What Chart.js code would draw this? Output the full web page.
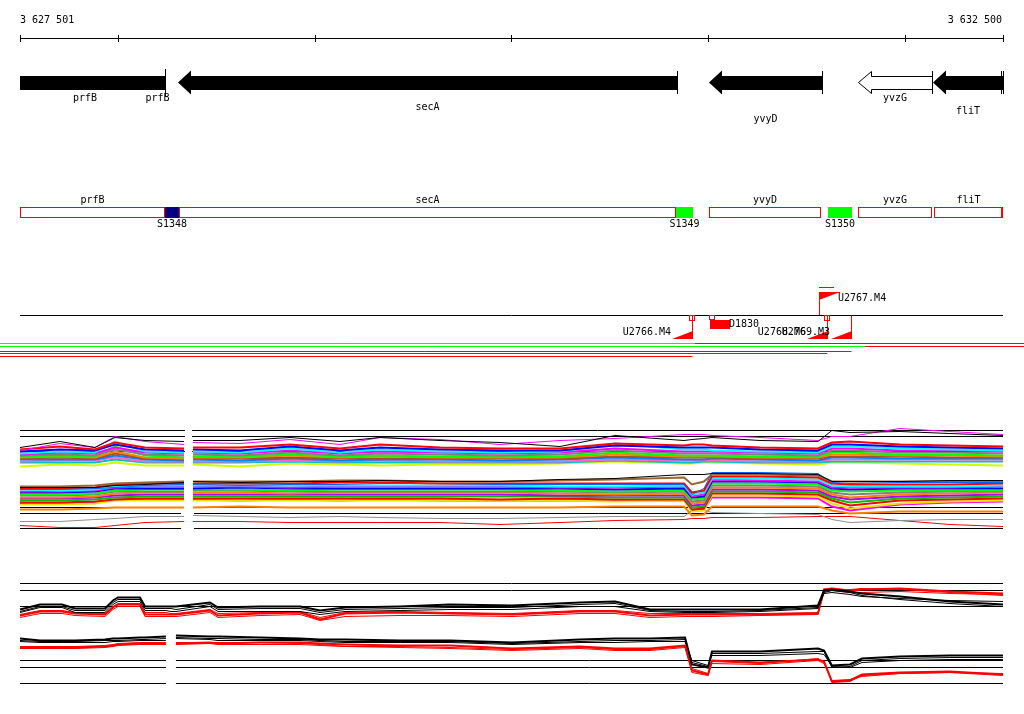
<!DOCTYPE html>
<html><head><meta charset="utf-8">
<script src="https://cdn.jsdelivr.net/npm/chart.js@4.4.0/dist/chart.umd.min.js"></script>
<style>html,body{margin:0;padding:0;background:#fff;overflow:hidden}canvas{display:block}</style>
</head><body><canvas id="c" width="1024" height="714"></canvas>
<script>
// ---------- DATA ----------
const REGION_START = 3627501, REGION_END = 3632500;
const axisTicks = [3627501, 3628000, 3629000, 3630000, 3631000, 3632000, 3632500];
const axisLabelLeft = '3 627 501', axisLabelRight = '3 632 500';

const geneNames  = ['prfB', 'prfB', 'secA', 'yvyD', 'yvzG', 'fliT'];
const geneStarts = [3627501, 3628162, 3628304, 3631005, 3631763, 3632144];
const geneEnds   = [3628162, 3628238, 3630842, 3631577, 3632139, 3632500];
const geneHasHead = [false, false, true, true, true, true];
const geneFilled  = [true, true, true, true, false, true];
const geneStartMarks = [3628238, 3630842, 3631577, 3632139, 3632490, 3632500];

const featNames  = ['prfB', 'secA', 'yvyD', 'yvzG', 'fliT'];
const featStarts = [3627501, 3628310, 3631005, 3631763, 3632149];
const featEnds   = [3628238, 3630837, 3631574, 3632139, 3632500];
const segNames  = ['S1348', 'S1349', 'S1350'];
const segStarts = [3628238, 3630837, 3631610];
const segEnds   = [3628310, 3630923, 3631732];

const upFlagNames = ['U2767.M4'];
const upFlagPos   = [3631564];
const downFlagNames = ['U2766.M4', 'U2768.M6', 'U2769.M3'];
const downFlagPos   = [3630920, 3631606, 3631729];
const downFlagBox   = [true, true, false];
const delNames = ['D1830'];
const delStarts = [3631010];
const delEnds = [3631112];
const strandSwitch = [3630934, 3631798];      // green -> red switch points
const readEnds = [3631729, 3631606, 3630920];  // red reads ending at flags

// expression panel 1 knots and profiles
const p1Pos = [3627501,3627704,3627882,3627984,3628137,3628335,3628355,3628381,3628620,3628874,3629128,3629332,3629637,3629942,3630247,3630527,3630878,3630918,3630979,3631020,3631264,3631559,3631630,3631722,3631976,3632230,3632500];
const topEnvBlack   = [447,441,447,437,440,441,null,440,440,437,441,437,440,442,446,435,440,439,438,437,440,441,430,432,431,433,435];
const topEnvMagenta = [450,443,447,436,441,444,null,442,443,439,444,437,439,444,440,438,434,434,434,435,437,440,436,436,428,431,434];
const topT1  = [449,446,449,442,447,448,null,447,447,444,448,444,447,448,448,443,445,444,444,445,447,448,442,441,444,445,446];
const topT2  = [451,449,450,444,449,450,null,449,450,446,450,447,449,450,450,445,447,447,447,447,449,450,444,444,446,447,448];
const topT3  = [453,451,452,441,451,452,null,451,452,448,452,449,451,452,451,443,449,449,449,450,451,452,446,446,448,449,450];
const topT4  = [454,452,453,447,452,453,null,452,453,450,453,451,452,453,452,448,451,451,451,451,452,453,448,448,450,450,451];
const topT5  = [455,454,455,449,454,455,null,454,455,452,455,453,454,455,454,450,453,453,453,453,454,455,450,450,452,452,453];
const topT6  = [456,455,456,446,455,457,null,456,456,454,456,455,456,456,456,452,455,455,455,455,456,456,452,452,454,454,455];
const topT7  = [457,456,457,451,457,458,null,457,457,455,457,456,457,457,457,454,456,456,456,456,457,457,454,454,455,455,456];
const topT8  = [458,457,458,453,458,459,null,458,458,457,458,458,458,458,458,456,457,457,457,457,458,458,456,456,456,457,457];
const topT9  = [459,459,459,455,459,460,null,459,460,458,460,459,459,460,459,457,459,459,459,458,459,460,457,457,458,458,458];
const topT10 = [461,460,460,457,461,461,null,461,461,460,461,460,461,461,461,459,460,460,460,460,461,461,459,459,459,459,459];
const topT11 = [462,462,462,459,462,462,null,462,462,461,462,462,462,462,462,460,462,462,461,461,462,462,461,461,461,461,461];
const topT12 = [466,464,465,462,465,465,null,464,466,463,464,465,464,464,463,461,463,463,462,462,463,464,462,462,463,464,465];

const lowEnvBlack = [487,487,487,485,484,482,null,481,482,481,481,480,481,481,479,478,474,474,474,473,473,474,481,481,481,480,480];
const lowEnvBlue  = [489,489,488,487,485,484,null,484,485,484,484,483,483,484,484,484,484,494,488,472,472,473,482,483,482,482,482];
const lowL1  = [486,486,485,483,482,481,null,481,481,481,480,480,481,481,480,479,477,484,481,474,474,475,481,481,481,481,481];
const lowL2  = [488,488,487,484,483,483,null,483,483,483,482,482,483,483,483,483,483,492,490,476,476,477,483,484,484,484,483];
const lowL3  = [489,490,489,486,485,485,null,485,485,485,485,485,485,485,486,486,485,494,492,478,478,479,485,486,486,486,485];
const lowL4  = [491,491,490,487,486,486,null,486,486,487,486,486,486,486,487,487,486,496,494,479,480,481,487,487,487,487,486];
const lowL5  = [492,492,491,488,488,488,null,488,487,488,488,488,488,488,488,489,488,497,496,481,481,482,488,489,488,488,488];
const lowL6  = [494,494,493,490,489,489,null,489,489,490,489,489,489,489,490,491,490,499,498,483,483,484,490,491,490,490,490];
const lowL7  = [495,495,494,491,491,491,null,490,490,491,491,491,491,491,491,492,491,501,500,485,485,486,492,494,492,491,491];
const lowL8  = [497,497,496,493,492,492,null,492,492,493,492,492,492,492,493,494,493,503,502,487,487,488,494,497,494,493,492];
const lowL9  = [498,498,497,495,494,494,null,494,494,494,494,494,494,494,495,495,495,505,504,489,489,490,496,499,496,495,494];
const lowL10 = [500,500,499,497,496,496,null,496,496,496,496,496,496,496,496,497,497,507,506,491,491,492,498,502,498,497,496];
const lowL11 = [502,502,501,499,498,498,null,498,498,498,498,498,498,499,498,499,499,509,508,493,493,494,500,505,500,499,498];
const lowL12 = [504,504,503,500,500,500,null,500,500,500,500,500,500,500,500,501,500,511,510,495,495,496,503,508,503,501,500];
const lowL13 = [503,503,502,499,499,499,null,499,500,499,500,499,500,500,500,500,500,510,509,497,497,498,506,510,504,502,501];
const lowL14 = [509,509,508,507,507,507,null,507,506,507,507,507,507,507,507,506,506,515,514,506,506,506,510,513,511,511,511];
const lowL15 = [521,521,519,518,516,516,null,515,516,517,516,517,518,518,517,516,516,510,510,512,513,514,519,522,520,519,519];
const lowL16 = [525,527,527,525,522,521,null,521,521,522,522,522,522,524,522,520,519,518,518,517,517,516,516,516,520,524,526];

const p1TopRefs = [430, 436, 451];
const p1LowRefs = [507, 513, 528];

// expression panel 2
const p2Pos = [3627501,3627603,3627715,3627781,3627933,3627974,3627999,3628111,3628137,3628243,3628269,3628294,3628467,3628508,3628722,3628925,3629027,3629154,3629434,3629688,3630003,3630349,3630527,3630705,3630883,3630918,3631000,3631020,3631264,3631559,3631590,3631630,3631722,3631783,3631976,3632230,3632500];
const upB1 = [609,604,604,608,608,600,597,597,606,606,606,606,602,607,606,606,610,607,606,604,605,602,601,609,609,609,609,609,609,605,590,589,591,593,596,601,604];
const upB2 = [611,606,606,610,610,602,599,599,608,608,608,609,604,609,608,608,612,609,608,607,607,604,603,610,611,611,611,611,610,607,593,592,594,596,598,600,601];
const upB3 = [612,607,607,612,612,604,601,601,610,610,611,611,606,611,611,611,614,611,610,609,609,606,606,611,612,612,612,612,611,608,592,590,592,595,599,603,606];
const upR1 = [615,611,611,613,614,607,604,604,614,614,614,614,610,615,613,612,619,613,612,613,614,611,611,615,614,614,614,614,614,613,589,588,590,589,588,591,593];
const upR2 = [617,613,613,615,616,609,606,606,616,616,616,616,612,617,615,614,620,616,615,615,616,613,613,617,616,616,616,616,615,614,591,590,592,592,591,593,594];
const upR3 = [614,610,610,612,613,606,603,603,612,612,613,613,609,613,612,611,617,612,611,612,613,610,610,613,613,613,613,613,613,612,590,589,589,588,589,592,595];
const lowB1 = [638,640,640,640,639,638,638,637,637,636,null,635,636,636,637,638,639,639,640,640,642,639,638,638,637,664,667,651,651,648,650,665,664,658,656,655,655];
const lowB2 = [640,641,641,641,640,640,640,639,639,638,null,637,638,638,639,639,640,641,641,641,643,641,640,640,639,662,666,653,653,651,651,667,666,660,658,657,657];
const lowB3 = [641,642,642,642,642,641,641,640,640,640,null,638,639,640,640,640,641,642,642,642,644,642,642,641,641,660,665,655,655,653,654,666,667,662,660,659,659];
const lowR1 = [647,647,647,647,646,645,644,643,643,643,null,643,642,643,642,642,643,644,645,645,648,646,648,648,645,670,674,660,662,659,661,681,680,674,672,671,674];
const lowR2 = [648,648,648,648,647,646,645,644,644,644,null,644,643,644,644,644,645,646,646,647,649,647,649,649,646,672,675,661,663,658,662,682,681,675,673,672,675];
const lowR3 = [646,646,646,646,645,644,643,642,642,642,null,642,642,642,642,643,644,646,647,648,650,648,650,650,647,668,673,663,664,660,663,680,679,676,673,672,673];
const p2TopRefs = [583, 590, 606];
const p2LowRefs = [660, 667, 683];

// ---------- LAYOUT ----------
const PX_LEFT = 20, PX_RIGHT = 1003, W = 1024;
const BP_PER_PX = (REGION_END - REGION_START) / (PX_RIGHT - PX_LEFT);
const XMIN = REGION_START - PX_LEFT * BP_PER_PX;
const XMAX = XMIN + W * BP_PER_PX;
const gap1Top = [3628340, 3628376], gap1Low = [3628320, 3628386], gap2Low = [3628243, 3628294];
const geneLabelY = [98, 98, 107, 119, 98, 111];

const datasets = [];   // built back-to-front
function ds(xs, ys, color, w) {
  datasets.push({data: xs.map((x, i) => ({x: x, y: ys[i]})), borderColor: color, borderWidth: w || 1,
    pointRadius: 0, fill: false, tension: 0, spanGaps: false});
}
function seg(x0, x1, y, color, w) { ds([x0, x1], [y, y], color, w); }
function gappedRef(y, gap, color) { ds([REGION_START, gap[0], gap[0] + 1, gap[1], REGION_END], [y, y, null, y, y], color || '#000', 1); }

// coverage / reads
seg(XMIN, strandSwitch[0], 343, '#00ff00'); seg(strandSwitch[0], XMAX, 343, '#ff0000');
seg(XMIN, strandSwitch[1], 346, '#00ff00'); seg(strandSwitch[1], XMAX, 346, '#ff0000');
seg(XMIN, readEnds[0], 351, '#ff0000');
seg(XMIN, readEnds[1], 353, '#ff0000');
seg(XMIN, readEnds[2], 356, '#ff0000');
seg(REGION_START, REGION_END, 315, '#000');

// panel 1
p1TopRefs.forEach(y => gappedRef(y, gap1Top));
p1LowRefs.forEach(y => gappedRef(y, gap1Low));
const topCols = ['#ccff00','#00c0c0','#ff66cc','#0080ff','#a0522d','#ff8000','#00ff00','#808080','#ff00ff','#00ffff','#0000ff','#ff0000'];
[topT12, topT11, topT10, topT9, topT8, topT7, topT6, topT5, topT4, topT3, topT2, topT1].forEach((s, i) => ds(p1Pos, s, topCols[i], 2));
ds(p1Pos, topEnvMagenta, '#ff00ff', 1);
ds(p1Pos, topEnvBlack, '#000', 1);
ds(p1Pos, lowL16, '#ff0000', 1);
ds(p1Pos, lowL15, '#909090', 1);
const lowCols = ['#ff8000','#ff00ff','#e6e600','#ff0000','#00c000','#b000ff','#ff8000','#808080','#00ff00','#0000ff','#ff00ff','#00ffff','#ff0000','#996633'];
[lowL14, lowL13, lowL12, lowL11, lowL10, lowL9, lowL8, lowL7, lowL6, lowL5, lowL4, lowL3, lowL2, lowL1].forEach((s, i) => ds(p1Pos, s, lowCols[i], 2));
ds(p1Pos, lowEnvBlue, '#0066ff', 1);
ds(p1Pos, lowEnvBlack, '#000', 1);

// panel 2
p2TopRefs.forEach(y => seg(REGION_START, REGION_END, y, '#000'));
p2LowRefs.forEach(y => gappedRef(y, gap2Low));
ds(p2Pos, upR3, '#ff0000', 1); ds(p2Pos, upR2, '#ff0000', 1); ds(p2Pos, upR1, '#ff0000', 2);
ds(p2Pos, upB3, '#000', 1); ds(p2Pos, upB2, '#000', 1); ds(p2Pos, upB1, '#000', 2);
ds(p2Pos, lowR3, '#ff0000', 1); ds(p2Pos, lowR2, '#ff0000', 1); ds(p2Pos, lowR1, '#ff0000', 2);
ds(p2Pos, lowB3, '#000', 1); ds(p2Pos, lowB2, '#000', 1); ds(p2Pos, lowB1, '#000', 2);

datasets.reverse();

const trackPlugin = {
  id: 'tracks',
  afterDatasetsDraw(chart) {
    const ctx = chart.ctx, xs = chart.scales.x;
    const px = v => Math.round(xs.getPixelForValue(v));
    const hl = (x0, x1, y, c) => { ctx.strokeStyle = c; ctx.beginPath(); ctx.moveTo(x0, y + 0.5); ctx.lineTo(x1 + 1, y + 0.5); ctx.stroke(); };
    const vl = (x, y0, y1, c) => { ctx.strokeStyle = c; ctx.beginPath(); ctx.moveTo(x + 0.5, y0); ctx.lineTo(x + 0.5, y1 + 1); ctx.stroke(); };
    const txt = (s, x, y, align) => { ctx.textAlign = align || 'center'; ctx.fillStyle = '#000'; ctx.fillText(s, x, y); };
    ctx.save();
    ctx.lineWidth = 1;
    ctx.font = '10px "DejaVu Sans Mono", monospace';
    ctx.textBaseline = 'middle';
    // ruler
    hl(px(REGION_START), px(REGION_END), 38, '#000');
    axisTicks.forEach(t => vl(px(t), 35, 41, '#000'));
    txt(axisLabelLeft, px(REGION_START), 20, 'left');
    txt(axisLabelRight, px(REGION_END) - 1, 20, 'right');
    // genes
    geneNames.forEach((n, i) => {
      const x0 = px(geneStarts[i]), x1 = px(geneEnds[i]);
      ctx.beginPath();
      if (geneHasHead[i]) {
        const h = x0 + 13;
        if (geneFilled[i]) {
          ctx.moveTo(x0, 82.5); ctx.lineTo(h, 70.5); ctx.lineTo(h, 76); ctx.lineTo(x1, 76); ctx.lineTo(x1, 90);
          ctx.lineTo(h, 90); ctx.lineTo(h, 94.5); ctx.closePath();
          ctx.fillStyle = '#000'; ctx.fill();
        } else {
          ctx.moveTo(x0 + 0.5, 82.5); ctx.lineTo(h + 0.5, 71.5); ctx.lineTo(h + 0.5, 76.5); ctx.lineTo(x1 + 0.5, 76.5);
          ctx.lineTo(x1 + 0.5, 89.5); ctx.lineTo(h + 0.5, 89.5); ctx.lineTo(h + 0.5, 93.5); ctx.closePath();
          ctx.fillStyle = '#fff'; ctx.fill(); ctx.strokeStyle = '#000'; ctx.stroke();
        }
      } else {
        ctx.fillStyle = '#000'; ctx.fillRect(x0, 76, x1 - x0, 14);
      }
      txt(n, (x0 + x1) / 2, geneLabelY[i]);
    });
    geneStartMarks.forEach((m, i) => vl(px(m), i === 0 ? 69 : 71, i === 0 ? 95 : 93, '#000'));
    // features
    featNames.forEach((n, i) => {
      const x0 = px(featStarts[i]), x1 = px(featEnds[i]);
      ctx.strokeStyle = '#ff0000'; ctx.strokeRect(x0 + 0.5, 207.5, x1 - x0 - 1, 10);
      txt(n, (x0 + x1) / 2, 200);
    });
    const segCols = ['#000080', '#00ff00', '#00ff00'];
    segNames.forEach((n, i) => {
      const x0 = px(segStarts[i]), x1 = px(segEnds[i]);
      ctx.fillStyle = segCols[i]; ctx.fillRect(x0, 207, x1 - x0, 11);
      txt(n, (x0 + x1) / 2, 224);
    });
    vl(px(REGION_END) - 2, 207, 217, '#ff0000');
    // transcript flags
    ctx.fillStyle = '#ff0000';
    upFlagNames.forEach((n, i) => {
      const x = px(upFlagPos[i]);
      vl(x, 292, 314, '#ff0000');
      hl(x, x + 14, 287, '#ff0000');
      hl(x, x + 20, 292, '#ff0000');
      ctx.fillStyle = '#ff0000'; ctx.beginPath(); ctx.moveTo(x, 292); ctx.lineTo(x + 21, 292); ctx.lineTo(x, 300); ctx.closePath(); ctx.fill();
      txt(n, x + 19, 298, 'left');
    });
    downFlagNames.forEach((n, i) => {
      const x = px(downFlagPos[i]);
      vl(x, 316, 338, '#ff0000');
      ctx.fillStyle = '#ff0000'; ctx.beginPath(); ctx.moveTo(x + 1, 331); ctx.lineTo(x + 1, 339); ctx.lineTo(x - 20, 339); ctx.closePath(); ctx.fill();
      if (downFlagBox[i]) { ctx.strokeStyle = '#ff0000'; ctx.strokeRect(x - 2.5, 315.5, 5, 5); }
      txt(n, x - 21, 332, 'right');
    });
    delNames.forEach((n, i) => {
      const x0 = px(delStarts[i]), x1 = px(delEnds[i]);
      ctx.fillStyle = '#ff0000'; ctx.fillRect(x0, 320, x1 - x0, 9);
      ctx.strokeStyle = '#ff0000'; ctx.strokeRect(x0 - 0.5, 315.5, 5, 4);
      txt(n, x1 - 1, 324, 'left');
    });
    ctx.restore();
  }
};

new Chart(document.getElementById('c').getContext('2d'), {
  type: 'line',
  data: {datasets: datasets},
  options: {
    responsive: false, animation: false, devicePixelRatio: 1, events: [],
    layout: {padding: 0},
    plugins: {legend: {display: false}, tooltip: {enabled: false}},
    scales: {
      x: {type: 'linear', min: XMIN, max: XMAX, display: false},
      y: {min: -0.5, max: 713.5, reverse: true, display: false}
    },
    elements: {point: {radius: 0}, line: {tension: 0, borderCapStyle: 'butt'}}
  },
  plugins: [trackPlugin]
});
</script>
</body></html>
